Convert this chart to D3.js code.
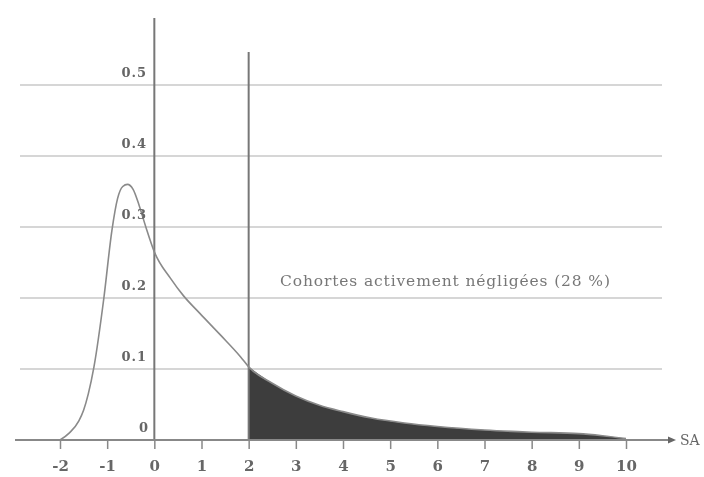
<!DOCTYPE html>
<html>
<head>
<meta charset="utf-8">
<script src="https://cdn.jsdelivr.net/npm/d3@7"></script>
<style>
  body { margin: 0; background: #fff; }
  svg { display: block; filter: blur(0.6px); }
  text { font-family: "DejaVu Serif", serif; fill: #666; }
</style>
</head>
<body>
<div id="chart"></div>
<script>
// density curve
const curveX = [-2, -1.8, -1.6, -1.5, -1.4, -1.28, -1.07, -0.9, -0.78, -0.67, -0.57, -0.45, -0.32, -0.18, 0, 0.34, 0.62, 0.97, 1.4, 1.83, 2, 2.5, 3, 3.5, 4, 4.6, 5.3, 6, 7, 8, 9, 9.5, 10];
const curveY = [0, 0.01, 0.027, 0.042, 0.065, 0.103, 0.2, 0.295, 0.34, 0.357, 0.36, 0.353, 0.33, 0.3, 0.265, 0.228, 0.203, 0.178, 0.148, 0.117, 0.103, 0.08, 0.062, 0.049, 0.04, 0.031, 0.024, 0.019, 0.014, 0.011, 0.009, 0.006, 0.002];
const xTicks = [-2, -1, 0, 1, 2, 3, 4, 5, 6, 7, 8, 9, 10];
const yTicks = [0.1, 0.2, 0.3, 0.4, 0.5];
const threshold = 2;
const label = "Cohortes activement négligées (28 %)";

const width = 704, height = 477;
const svg = d3.select("#chart").append("svg").attr("width", width).attr("height", height);

//scales
const x = d3.scaleLinear().domain([-2, 10]).range([60, 626]);
const y = d3.scaleLinear().domain([0, 0.5]).range([440, 85]);

const pts = curveX.map((v, i) => ({x: v, y: curveY[i]}));

//gridlines
svg.selectAll(".grid").data(yTicks).enter().append("line")
  .attr("x1", 20).attr("x2", 662)
  .attr("y1", d => y(d)).attr("y2", d => y(d))
  .attr("stroke", "#d6d6d6").attr("stroke-width", 2);

//shaded tail
const area = d3.area().x(d => x(d.x)).y0(y(0)).y1(d => y(d.y)).curve(d3.curveMonotoneX);
svg.append("path").datum(pts.filter(d => d.x >= threshold))
  .attr("d", area).attr("fill", "#3d3d3d");

//threshold line
svg.append("line").attr("x1", x(threshold)).attr("x2", x(threshold))
  .attr("y1", 52).attr("y2", y(0)).attr("stroke", "#777").attr("stroke-width", 2);

//y axis line
svg.append("line").attr("x1", x(0)).attr("x2", x(0))
  .attr("y1", 18).attr("y2", y(0)).attr("stroke", "#777").attr("stroke-width", 2);

//curve
const line = d3.line().x(d => x(d.x)).y(d => y(d.y)).curve(d3.curveMonotoneX);
svg.append("path").datum(pts).attr("d", line)
  .attr("fill", "none").attr("stroke", "#8a8a8a").attr("stroke-width", 1.6);

//x axis
const xAxis = svg.append("g").attr("transform", `translate(0, ${y(0)})`)
  .call(d3.axisBottom(x).tickValues(xTicks).tickSize(9).tickFormat(d => String(d)));
xAxis.select(".domain").remove();
xAxis.selectAll(".tick line").attr("stroke", "#888").attr("stroke-width", 1.5);
xAxis.selectAll(".tick text").attr("y", 31).attr("dy", null).style("font-size", "15px").style("fill", "#666")
  .style("font-weight", "bold").style("font-family", "DejaVu Serif, serif");

svg.append("line").attr("x1", 15).attr("x2", 668).attr("y1", y(0)).attr("y2", y(0))
  .attr("stroke", "#888").attr("stroke-width", 2);
svg.append("path").attr("d", `M668,${y(0) - 3.5} L676,${y(0)} L668,${y(0) + 3.5} Z`).attr("fill", "#666");
svg.append("text").attr("x", 680).attr("y", y(0) + 5).style("font-size", "14px").text("SA");

//y labels
svg.selectAll(".ylab").data(yTicks).enter().append("text")
  .attr("x", 147).attr("y", d => y(d) - 8).attr("text-anchor", "end")
  .style("font-size", "13px").style("font-weight", "bold").style("letter-spacing", "1px").text(d => d);
svg.append("text").attr("x", 148).attr("y", y(0) - 8).attr("text-anchor", "end")
  .style("font-size", "13px").style("font-weight", "bold").text("0");

//annotation
svg.append("text").attr("x", 280).attr("y", 286).attr("textLength", 330)
  .style("font-size", "15.5px").style("fill", "#777").text(label);
</script>
</body>
</html>
